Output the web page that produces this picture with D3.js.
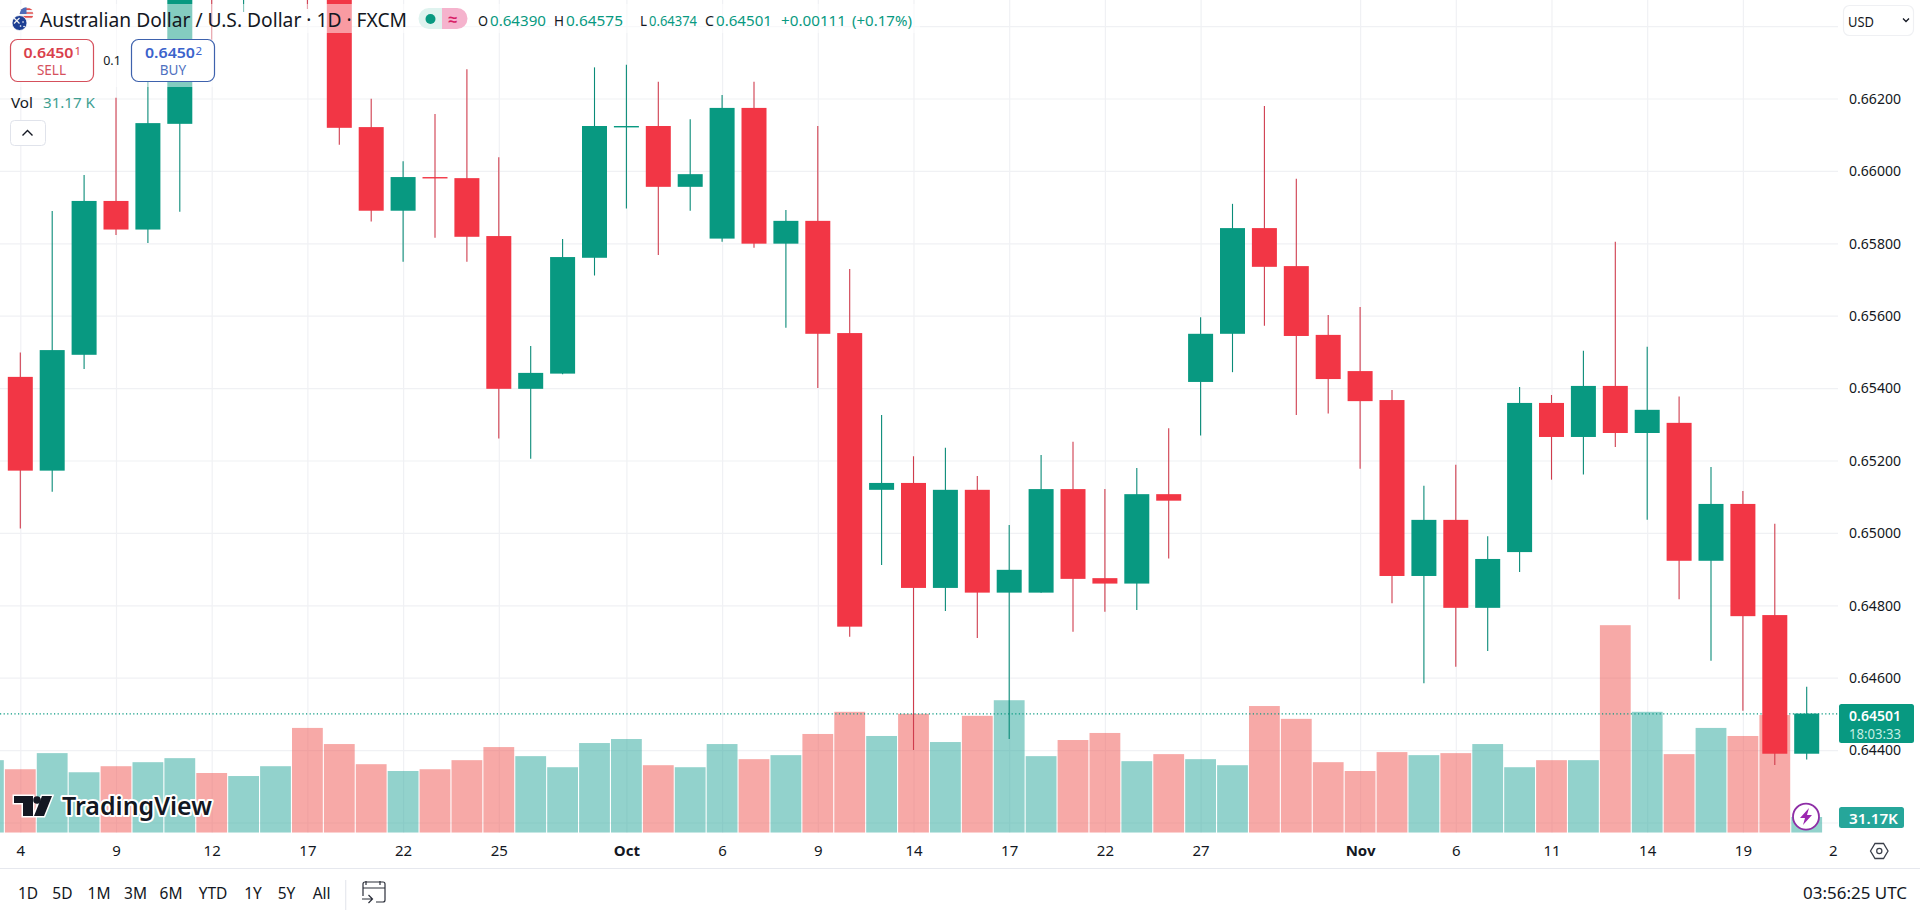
<!DOCTYPE html>
<html><head><meta charset="utf-8">
<script src="https://cdn.jsdelivr.net/npm/d3@7/dist/d3.min.js"></script>
<style>
html,body{margin:0;padding:0;background:#fff;overflow:hidden}
svg{display:block}
text{font-family:"Noto Sans",sans-serif}
</style></head><body>
<svg id="c" width="1920" height="912"></svg>
<script>
const opens =[.65380,.65431,.65172,.65492,.65917,.65838,.66130,.66748,.66514,.66541,.66831,.66555,.66121,.65890,.65983,.65980,.65820,.65398,.65440,.65760,.66122,.66124,.65956,.65813,.66174,.65799,.65862,.65552,.65119,.65138,.64848,.65119,.64835,.64835,.65121,.64875,.64860,.65107,.65417,.65550,.65842,.65737,.65547,.65447,.65367,.64881,.65036,.64793,.64947,.65359,.65265,.65406,.65276,.65304,.64923,.65080,.64773,.64390];
const highs =[.65470,.65498,.65889,.65989,.66202,.66348,.66734,.66800,.66720,.66800,.66880,.66600,.66199,.66027,.66157,.66281,.66038,.65516,.65812,.66286,.66293,.66246,.66143,.66210,.66246,.65892,.66124,.65729,.65326,.65212,.65235,.65157,.65022,.65215,.65252,.65121,.65179,.65289,.65596,.65909,.66179,.65978,.65602,.65624,.65395,.65130,.65188,.64991,.65403,.65381,.65503,.65804,.65514,.65377,.65182,.65116,.65025,.64575];
const lows  =[.65330,.65012,.65114,.65453,.65823,.65801,.65887,.66362,.66439,.66486,.66447,.66072,.65860,.65749,.65815,.65749,.65261,.65205,.65438,.65711,.65896,.65768,.65890,.65804,.65788,.65567,.65400,.64713,.64911,.64400,.64784,.64710,.64431,.64835,.64727,.64782,.64787,.64929,.65269,.65444,.65572,.65326,.65330,.65177,.64806,.64585,.64630,.64674,.64892,.65147,.65161,.65237,.65036,.64817,.64647,.64509,.64359,.64374];
const closes=[.65440,.65172,.65505,.65917,.65838,.66132,.66679,.66583,.66664,.66750,.66555,.66119,.65890,.65983,.65981,.65818,.65398,.65442,.65762,.66124,.66124,.65956,.65991,.66174,.65799,.65862,.65550,.64741,.65138,.64848,.65119,.64835,.64898,.65121,.64873,.64860,.65107,.65089,.65550,.65842,.65735,.65544,.65425,.65364,.64881,.65036,.64793,.64928,.65359,.65265,.65406,.65276,.65340,.64923,.65080,.64770,.64390,.64501];
const volumes=[144,126,158,120,132,140,148,118.5,112.5,132,208,176,136,122.5,126,144,170,152,130,178,186,134,130,176,146,154,196,240,192,236,180,232,263,152,184,198,142,156,146,134,251.5,226,140,122.5,160,154,158,176,130,144,144,412,240,156,208,192,233.6,31.17];
const priceTicks=[.664,.662,.660,.658,.656,.654,.652,.650,.648,.646,.644,.642];
const timeLabels=["4","9","12","17","22","25","Oct","6","9","14","17","22","27","Nov","6","11","14","19","2"];
const timeSlots =[0,3,6,9,12,15,19,22,25,28,31,34,37,42,45,48,51,54,56.82];
const rangeLabels=["1D","5D","1M","3M","6M","YTD","1Y","5Y","All"];
const rangeCentres=[28,62.4,99,135.5,171,213,253,286.5,321.6];
const lastPrice=.64501, lastVolume=31.17;

const GREEN="#089981",RED="#f23645",INK="#131722";
const paneR=1838,paneB=832.7;
const svg=d3.select("#c");
const x=d3.scaleLinear().domain([-1,56]).range([-11.6,1806.7]);
const y=d3.scaleLinear().domain([.662,.644]).range([98.5,750.1]);
const v=d3.scaleLinear().domain([0,31.17]).range([paneB,817]);
const idx=d3.range(opens.length);
const at=i=>i-1;
const up=i=>closes[i]>=opens[i];

const defs=svg.append("defs");
defs.append("clipPath").attr("id","pane").append("rect").attr("x",0).attr("y",0).attr("width",paneR).attr("height",paneB);
defs.append("clipPath").attr("id","candlePane").append("rect").attr("x",2).attr("y",0).attr("width",paneR-2).attr("height",paneB);
defs.append("clipPath").attr("id","usFlag").append("circle").attr("cx",26.5).attr("cy",14).attr("r",6.8);

// grid
const grid=svg.append("g");
const gy=grid.append("g").call(d3.axisLeft(y).tickValues(priceTicks).tickSize(-paneR).tickFormat(""));
gy.select(".domain").remove();
gy.selectAll("line").attr("stroke","#f0f1f4").attr("stroke-width",1.2);
const gx=grid.append("g").attr("transform",`translate(0,${paneB})`).call(d3.axisBottom(x).tickValues(timeSlots.slice(0,-1)).tickSize(-paneB).tickFormat(""));
gx.select(".domain").remove();
gx.selectAll("line").attr("stroke","#f0f1f4").attr("stroke-width",1.2);

// volume
svg.append("g").attr("clip-path","url(#pane)").selectAll("rect").data(idx).join("rect")
 .attr("x",i=>x(at(i))-15.4).attr("width",30.8)
 .attr("y",i=>v(volumes[i])).attr("height",i=>paneB-v(volumes[i]))
 .attr("fill",i=>up(i)?"#26a69a":"#ef5350").attr("fill-opacity",.5);

// last price line
svg.append("line").attr("x1",0).attr("x2",paneR).attr("y1",y(lastPrice)+.4).attr("y2",y(lastPrice)+.4)
 .attr("stroke",GREEN).attr("stroke-width",1.2).attr("stroke-dasharray","1.2 2.4");

// candles
const cg=svg.append("g").attr("clip-path","url(#candlePane)");
cg.selectAll("line").data(idx).join("line")
 .attr("x1",i=>x(at(i))).attr("x2",i=>x(at(i)))
 .attr("y1",i=>y(highs[i])).attr("y2",i=>y(lows[i]))
 .attr("stroke",i=>up(i)?"#0a8b78":"#cf3c4d").attr("stroke-width",1.1);
cg.selectAll("rect").data(idx).join("rect")
 .attr("x",i=>x(at(i))-12.5).attr("width",25)
 .attr("y",i=>Math.min(y(opens[i]),y(closes[i])))
 .attr("height",i=>Math.max(1.4,Math.abs(y(opens[i])-y(closes[i]))))
 .attr("fill",i=>up(i)?GREEN:RED);

// watermark
const wm=svg.append("g");
wm.append("path").attr("d","M14 796H33V816H23V803H14Z M42 796H52L44 816H34Z").attr("fill","#131722").attr("stroke","#fff").attr("stroke-width",3).attr("paint-order","stroke");
wm.append("circle").attr("cx",37).attr("cy",800).attr("r",3.8).attr("fill","#131722");
wm.append("text").attr("x",62).attr("y",815).attr("font-size",25).attr("font-weight",600).attr("fill","#131722")
 .attr("stroke","#fff").attr("stroke-width",4).attr("paint-order","stroke").attr("stroke-linejoin","round")
 .attr("textLength",150).attr("lengthAdjust","spacingAndGlyphs").text("TradingView");

// legend veils
svg.append("rect").attr("x",0).attr("y",4).attr("width",920).attr("height",29).attr("fill","#fff").attr("fill-opacity",.5);
svg.append("rect").attr("x",0).attr("y",33).attr("width",215).attr("height",54).attr("fill","#fff").attr("fill-opacity",.5);

function t(px,py,s,o={}){
 const n=svg.append("text").attr("x",px).attr("y",py).attr("dominant-baseline","central")
  .attr("font-size",o.size||15).attr("fill",o.fill||INK).attr("text-anchor",o.anchor||"start")
  .attr("font-weight",o.weight||400).text(s);
 if(o.len) n.attr("textLength",o.len).attr("lengthAdjust","spacingAndGlyphs");
 return n;
}

// flag
const fl=svg.append("g");
const us=fl.append("g").attr("clip-path","url(#usFlag)");
us.append("rect").attr("x",19).attr("y",7).attr("width",15).attr("height",14).attr("fill","#f0f0f4");
us.append("path").attr("d","M19 9.2H34M19 13H34M19 16.8H34").attr("stroke","#e2514f").attr("stroke-width",1.7);
us.append("rect").attr("x",19).attr("y",7).attr("width",7.5).attr("height",7).attr("fill","#4a6ab8");
fl.append("circle").attr("cx",19.5).attr("cy",23).attr("r",7.5).attr("fill","#1d3f93").attr("stroke","#fff").attr("stroke-width",.8);
fl.append("path").attr("d","M14 18l5.5 5.5M19.5 18l-5.5 5.5").attr("stroke","#f2f2f2").attr("stroke-width",1.2);
fl.append("path").attr("d","M23 22h.1M20.5 26h.1M24 26.5h.1").attr("stroke","#fff").attr("stroke-width",1.6).attr("stroke-linecap","round");

t(40,20,"Australian Dollar / U.S. Dollar · 1D · FXCM",{size:19,len:367});

// status pills
svg.append("path").attr("d","M442 8H429a10.5 10.5 0 0 0 0 21H442Z").attr("fill","#dff3ef");
svg.append("path").attr("d","M442 8H457a10.5 10.5 0 0 1 0 21H442Z").attr("fill","#f5b3cd");
svg.append("circle").attr("cx",430.5).attr("cy",19).attr("r",5).attr("fill",GREEN);
t(453,18.5,"≈",{size:16,anchor:"middle",fill:"#d81e66",weight:700});

// OHLC
const legendBits=[[478,"O",INK,10],[490,"0.64390",GREEN,56],[554,"H",INK,10],[566,"0.64575",GREEN,57],[640,"L",INK,7],[649,"0.64374",GREEN,48],[705,"C",INK,9],[716,"0.64501",GREEN,56],[781,"+0.00111",GREEN,65],[852,"(+0.17%)",GREEN,60]];
legendBits.forEach(b=>t(b[0],20,b[1],{fill:b[2],size:15,len:b[3]}));

// sell / buy
svg.append("rect").attr("x",10.5).attr("y",39.5).attr("width",83).attr("height",42).attr("rx",7).attr("fill","#fff").attr("stroke","#d5505c").attr("stroke-width",1.2);
t(23.5,52,"0.6450",{fill:"#d93f4c",weight:600,size:14.5,len:50});
t(74.5,50,"1",{fill:"#d93f4c",size:11.5});
t(51.5,69.5,"SELL",{fill:"#d5505c",size:13.5,anchor:"middle"});
t(112,60,"0.1",{size:12.5,anchor:"middle"});
svg.append("rect").attr("x",131.5).attr("y",39.5).attr("width",83).attr("height",42).attr("rx",7).attr("fill","#fff").attr("stroke","#3e62ad").attr("stroke-width",1.2);
t(145,52,"0.6450",{fill:"#3b63cc",weight:600,size:14.5,len:50});
t(195.5,50,"2",{fill:"#3b63cc",size:11.5});
t(173,69.5,"BUY",{fill:"#4e70c0",size:13.5,anchor:"middle"});

// volume legend
t(11,101.5,"Vol",{size:15,len:22});
t(43,101.5,"31.17 K",{size:15,fill:"#3f9f92",len:52});
svg.append("rect").attr("x",10.5).attr("y",120.5).attr("width",35).attr("height",25).attr("rx",4).attr("fill","#fff").attr("stroke","#e0e3eb");
svg.append("path").attr("d","M22.5 135.5L27.5 130.5L32.5 135.5").attr("fill","none").attr("stroke",INK).attr("stroke-width",1.4);

// bolt badge
svg.append("circle").attr("cx",1806).attr("cy",816.7).attr("r",13).attr("fill","#fff").attr("stroke","#8e2ea6").attr("stroke-width",1.8);
svg.append("path").attr("d","M1809 808L1800 818H1805L1803 825L1812 815H1807Z").attr("fill","#9c27b0");

// price axis
const ay=svg.append("g").attr("transform","translate(1849,0)").call(d3.axisRight(y).tickValues(priceTicks.slice(1)).tickSize(0).tickPadding(0).tickFormat(d3.format(".5f")));
ay.select(".domain").remove();
ay.selectAll("text").attr("font-size",15).attr("fill",INK).attr("textLength",52).attr("lengthAdjust","spacingAndGlyphs");

// time axis
const ax=svg.append("g").attr("transform","translate(0,850)").call(d3.axisBottom(x).tickValues(timeSlots).tickSize(0).tickPadding(0).tickFormat((d,i)=>timeLabels[i]));
ax.select(".domain").remove();
ax.selectAll("text").attr("y",0).attr("dy",0).attr("dominant-baseline","central").attr("font-size",15).attr("fill",INK)
 .attr("font-weight",(d,i)=>/[A-Z]/.test(timeLabels[i])?700:400);

// tags
svg.append("rect").attr("x",1839).attr("y",704).attr("width",75).attr("height",39).attr("rx",2.5).attr("fill",GREEN);
t(1849,715,d3.format(".5f")(lastPrice),{fill:"#fff",size:15,weight:600,len:52});
t(1849,733,"18:03:33",{fill:"#c4eee4",size:14.5,len:52});
svg.append("rect").attr("x",1839).attr("y",807).attr("width",65).attr("height",21).attr("rx",2.5).attr("fill","#26a69a");
t(1849,817.5,lastVolume+"K",{fill:"#fff",size:15,weight:600,len:49});

// USD box
svg.append("rect").attr("x",1843.5).attr("y",5.5).attr("width",70).attr("height",30).attr("rx",6).attr("fill","#fff").attr("stroke","#eff0f3").attr("stroke-width",1.2);
t(1848,20.5,"USD",{size:15,len:26});
svg.append("path").attr("d","M1903 18.5L1906 21.5L1909 18.5").attr("fill","none").attr("stroke",INK).attr("stroke-width",1.3);

// hex settings
svg.append("path").attr("d","M1870.5 851L1875 843.5H1883.5L1888 851L1883.5 858.5H1875Z").attr("fill","none").attr("stroke","#3a3f4a").attr("stroke-width",1.3);
svg.append("circle").attr("cx",1879.3).attr("cy",851).attr("r",2.6).attr("fill","none").attr("stroke","#3a3f4a").attr("stroke-width",1.2);

// bottom bar
svg.append("line").attr("x1",0).attr("x2",1920).attr("y1",868.5).attr("y2",868.5).attr("stroke","#e6e8ee").attr("stroke-width",1.2);
rangeLabels.forEach((s,i)=>t(rangeCentres[i],892.7,s,{anchor:"middle",size:15.5}));
svg.append("line").attr("x1",345.7).attr("x2",345.7).attr("y1",880).attr("y2",910).attr("stroke","#e6e8ee").attr("stroke-width",1.2);
svg.append("path").attr("d","M366 885V881M380 885V881M363 896V884a2 2 0 0 1 2-2H383a2 2 0 0 1 2 2V900a2 2 0 0 1-2 2H376M363 888H385M362 899H372M368.5 895L372.5 899L368.5 903").attr("fill","none").attr("stroke","#2a2e39").attr("stroke-width",1.2);
t(1907,892.5,"03:56:25 UTC",{anchor:"end",size:16.5,len:104});
</script>
</body></html>
